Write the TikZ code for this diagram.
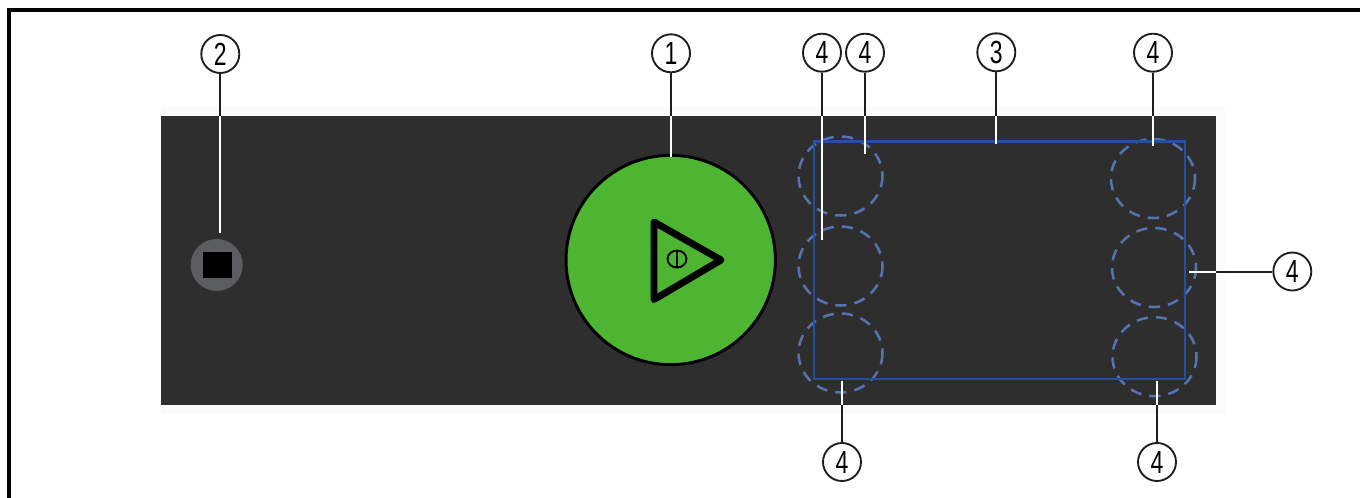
\documentclass[tikz,border=0pt]{standalone}
\usepackage{fontspec}
\setmainfont{Liberation Sans}
\definecolor{panelc}{HTML}{2E2E2E}
\definecolor{haloc}{HTML}{FBFBFC}
\definecolor{rectc}{HTML}{2350A0}
\definecolor{dashc}{HTML}{5473B0}
\definecolor{greenc}{HTML}{4DB531}
\definecolor{stopc}{HTML}{5C5D61}
\definecolor{leadc}{HTML}{1E1E1E}
\tikzset{
  callout/.style={circle,draw=leadc,line width=1.4pt,fill=white,minimum size=28.5pt,inner sep=0pt,
    font=\fontsize{24}{24}\selectfont},
  leadout/.style={draw=leadc,line width=1.5pt},
  leadin/.style={draw=white,line width=1.5pt},
  sensor/.style={draw=dashc,line width=1.9pt,dash pattern=on 8.5pt off 6pt},
}
\newcommand{\num}[1]{\scalebox{0.72}[1]{#1}}
\begin{document}
\begin{tikzpicture}[x=0.75pt,y=-0.75pt]
\useasboundingbox (0,0) rectangle (1360,497);
\fill[white] (0,0) rectangle (1360,497);
% outer frame (open at the bottom, right edge beyond the crop)
\draw[black,line width=3.7pt] (9,500) -- (9,10) -- (1365,10);
% panel
\fill[haloc] (162,107) rectangle (1225,414);
\fill[panelc] (160.5,116) rectangle (1216,404.5);
% stop button
\node[circle,fill=stopc,minimum size=39pt,inner sep=0pt] (stopb) at (216.7,265) {};
\node[rectangle,fill=black,minimum width=21.2pt,minimum height=20pt,inner sep=0pt] (stopsq) at (217.5,265) {};
% start button
\node[circle,draw=black,line width=2.2pt,fill=greenc,minimum size=157pt,inner sep=0pt] (startb) at (670.7,260) {};
\draw[black,line width=5.2pt,line join=round] (654,222) -- (721,260) -- (654,299.5) -- cycle;
\draw[black,line width=1.4pt] (677,259) ellipse[x radius=9.5,y radius=8.5];
\draw[black,line width=1.4pt] (677,250.5) -- (677,267.5);
% sensors
\foreach \n/\cx/\cy in {a/840.5/176,b/840.5/266,c/840.5/353,d/1153/178.5,e/1154/267.5,f/1154.5/356.7}{
  \draw[sensor] (\cx,\cy) ellipse[x radius=42,y radius=39.5];
}
% sensor field
\draw[rectc,line width=2.2pt] (814,141.7) rectangle (1185,379);
% callouts
\node[callout] (n2) at (220.3,54) {\num{2}};
\node[callout] (n1) at (671,53.3) {\num{1}};
\node[callout] (n4a) at (822,52.7) {\num{4}};
\node[callout] (n4b) at (865,52.7) {\num{4}};
\node[callout] (n3) at (996.3,52.3) {\num{3}};
\node[callout] (n4c) at (1153,52.7) {\num{4}};
\node[callout] (n4d) at (1292.3,271.5) {\num{4}};
\node[callout] (n4e) at (842,462) {\num{4}};
\node[callout] (n4f) at (1157,462) {\num{4}};
% connector break points at panel edge and ends
\foreach \n/\x/\y/\ex/\ey in {
  2/220.3/116/220.3/233,
  1/671/116/671/157,
  4a/822/116/822/240,
  4b/865/116/865/154,
  3/996.3/116/996.3/144,
  4c/1153/116/1153/146,
  4d/1216/271.5/1189/271.5,
  4e/842/404.5/842/381,
  4f/1157/404.5/1157/381}{
  \coordinate (e\n) at (\x,\y);
  \coordinate (t\n) at (\ex,\ey);
  \draw[leadout] (n\n) -- (e\n);
  \draw[leadin] (e\n) -- (t\n);
}
\end{tikzpicture}
\end{document}
